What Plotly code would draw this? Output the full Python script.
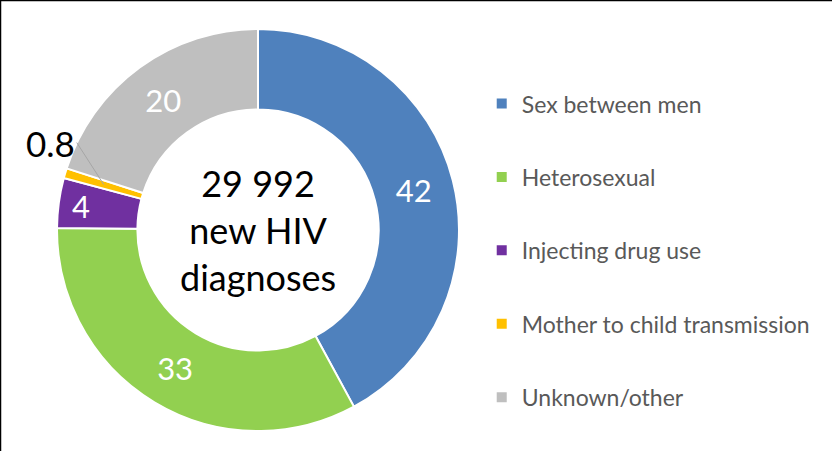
import math
import plotly.graph_objects as go

# Data
categories = ['Sex between men', 'Heterosexual', 'Injecting drug use',
              'Mother to child transmission', 'Unknown/other']
values = [42, 33, 4, 0.8, 20]
colors = ['#4F81BD', '#92D050', '#7030A0', '#FFC000', '#BFBFBF']
center_text = ['29 992', 'new HIV', 'diagnoses']
outside_label = 3  # index of the slice labelled outside the ring

W, H = 832, 451
FONT = 'Lato'
HOLE = 0.6

# Donut placement (paper fractions)
dom_x = [57 / W, 459 / W]
dom_y = [20 / H, 422 / H]

text_vals = ['' if i == outside_label else f'{v:g}' for i, v in enumerate(values)]

fig = go.Figure()
fig.add_trace(go.Pie(
    labels=categories, values=values, hole=HOLE, sort=False,
    direction='clockwise', rotation=0,
    marker=dict(colors=colors, line=dict(color='white', width=2)),
    text=text_vals, textinfo='text', textposition='inside',
    insidetextorientation='horizontal',
    insidetextfont=dict(family=FONT, size=31, color='white'),
    hoverinfo='label+value',
    domain=dict(x=dom_x, y=dom_y),
    showlegend=False,
))

# Legend entries (one group each so they can be spaced out)
for name, col in zip(categories, colors):
    fig.add_trace(go.Scatter(
        x=[None], y=[None], mode='markers', name=name, legendgroup=name,
        marker=dict(symbol='square', size=10, color=col),
    ))

# Centre text
cx = (dom_x[0] + dom_x[1]) / 2
cy = (dom_y[0] + dom_y[1]) / 2
fig.add_annotation(
    x=cx, y=cy, xref='paper', yref='paper', showarrow=False,
    text='<br>'.join(center_text), font=dict(family=FONT, size=36, color='black'),
    xanchor='center', yanchor='middle',
)

# Leader label for the tiny slice, pointing at its middle
total = sum(values)
frac = (sum(values[:outside_label]) + values[outside_label] / 2) / total
theta = 2 * math.pi * frac
r_px = (dom_y[1] - dom_y[0]) * H / 2
r_mid = r_px * (1 + HOLE) / 2
tip_x = cx + r_mid * math.sin(theta) / W
tip_y = cy + r_mid * math.cos(theta) / H
fig.add_annotation(
    x=tip_x, y=tip_y, xref='paper', yref='paper',
    text=f'{values[outside_label]:g}', font=dict(family=FONT, size=35, color='black'),
    showarrow=True, arrowhead=0, arrowwidth=1, arrowcolor='#A6A6A6',
    ax=-27, ay=-42, standoff=0, xanchor='right', yanchor='middle',
)

# Frame lines on top and left edges
fig.add_shape(type='line', xref='paper', yref='paper', x0=0, x1=1, y0=1, y1=1,
              line=dict(color='black', width=2.5))
fig.add_shape(type='line', xref='paper', yref='paper', x0=0, x1=0, y0=0, y1=1,
              line=dict(color='black', width=2.5))

fig.update_xaxes(visible=False)
fig.update_yaxes(visible=False)
fig.update_layout(
    width=W, height=H,
    margin=dict(l=0, r=0, t=0, b=0),
    paper_bgcolor='white', plot_bgcolor='white',
    font=dict(family=FONT),
    legend=dict(
        x=0.579, y=0.818, xanchor='left', yanchor='top',
        font=dict(family=FONT, size=23, color='#595959'),
        tracegroupgap=40.5, itemwidth=30, bgcolor='rgba(0,0,0,0)',
    ),
)

# drop the browser's default page margin so the figure sits at the window origin
fig.write_html('out.html', config={'displayModeBar': False},
               post_script="document.body.style.margin='0';")
